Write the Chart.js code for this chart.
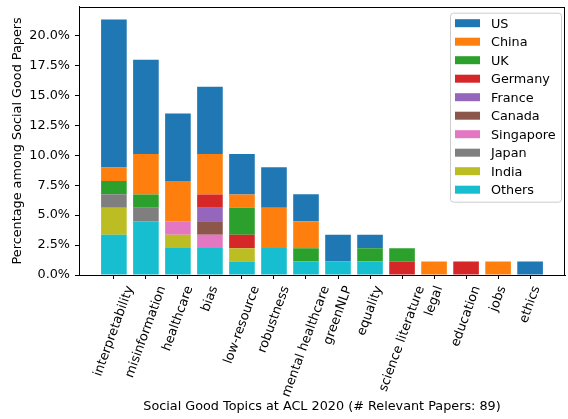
<!DOCTYPE html>
<html lang="en">
<head>
  <meta charset="UTF-8">
  <title>Social Good Topics at ACL 2020</title>
  <script src="https://cdn.jsdelivr.net/npm/chart.js"></script>
  <style>
    html, body { margin: 0; padding: 0; background: #fff; }
    #wrap { width: 568px; height: 419px; }
  </style>
</head>
<body>
  <div id="wrap"><canvas id="topicChart" width="568" height="419"></canvas></div>

  <script>
    // Topics on the x axis
    const topics = ['interpretability', 'misinformation', 'healthcare', 'bias', 'low-resource', 'robustness',
      'mental healthcare', 'greenNLP', 'equality', 'science literature', 'legal', 'education', 'jobs', 'ethics'];

    // Share of the 89 social good papers (%), per country, per topic
    const us        = [12.36, 7.87, 5.62, 5.62, 3.37, 3.37, 2.25, 2.25, 1.12, 0, 0, 0, 0, 1.12];
    const china     = [1.12, 3.37, 3.37, 3.37, 1.12, 3.37, 2.25, 0, 0, 0, 1.12, 0, 1.12, 0];
    const uk        = [1.12, 1.12, 0, 0, 2.25, 0, 1.12, 0, 1.12, 1.12, 0, 0, 0, 0];
    const germany   = [0, 0, 0, 1.12, 1.12, 0, 0, 0, 0, 1.12, 0, 1.12, 0, 0];
    const france    = [0, 0, 0, 1.12, 0, 0, 0, 0, 0, 0, 0, 0, 0, 0];
    const canada    = [0, 0, 0, 1.12, 0, 0, 0, 0, 0, 0, 0, 0, 0, 0];
    const singapore = [0, 0, 1.12, 1.12, 0, 0, 0, 0, 0, 0, 0, 0, 0, 0];
    const japan     = [1.12, 1.12, 0, 0, 0, 0, 0, 0, 0, 0, 0, 0, 0, 0];
    const india     = [2.25, 0, 1.12, 0, 1.12, 0, 0, 0, 0, 0, 0, 0, 0, 0];
    const others    = [3.37, 4.49, 2.25, 2.25, 1.12, 2.25, 1.12, 1.12, 1.12, 0, 0, 0, 0, 0];

    const yTicks = [0, 2.5, 5, 7.5, 10, 12.5, 15, 17.5, 20];

    // stacking order, bottom first
    const series = [
      ['Others', others], ['India', india], ['Japan', japan], ['Singapore', singapore], ['Canada', canada],
      ['France', france], ['Germany', germany], ['UK', uk], ['China', china], ['US', us]
    ];
    const colors = {
      US: '#1f77b4', China: '#ff7f0e', UK: '#2ca02c', Germany: '#d62728', France: '#9467bd',
      Canada: '#8c564b', Singapore: '#e377c2', Japan: '#7f7f7f', India: '#bcbd22', Others: '#17becf'
    };

    const FONT = 12.8;
    Chart.defaults.font.family = '"DejaVu Sans", sans-serif';
    Chart.defaults.font.size = FONT;
    Chart.defaults.color = '#000';

    // spines on top/right, rotated topic labels, legend inside the axes
    const extras = {
      id: 'extras',
      afterDraw(chart) {
        const { ctx, chartArea: a, scales: { x } } = chart;
        ctx.save();
        ctx.strokeStyle = '#000';
        ctx.lineWidth = 1;
        ctx.strokeRect(Math.round(a.left) + 0.5, Math.round(a.top) + 0.5,
          Math.round(a.right - a.left) - 1, Math.round(a.bottom - a.top));

        ctx.font = FONT + 'px "DejaVu Sans"';
        ctx.fillStyle = '#000';
        ctx.textAlign = 'center';
        ctx.textBaseline = 'middle';
        const rot = 70 * Math.PI / 180;
        topics.forEach((t, i) => {
          const w = ctx.measureText(t).width;
          const bh = w * Math.sin(rot) + 15 * Math.cos(rot);
          ctx.save();
          ctx.translate(x.getPixelForValue(i), a.bottom + 9 + bh / 2);
          ctx.rotate(-rot);
          ctx.fillText(t, 0, 0);
          ctx.restore();
        });

        // legend
        const right = a.right - 4, top = a.top + 6, w = 111, rowH = 18.5;
        const items = chart.data.datasets.slice().reverse();
        const h = items.length * rowH + 4;
        const left = right - w;
        ctx.beginPath();
        ctx.roundRect(left + 0.5, top + 0.5, w, h, 3);
        ctx.fillStyle = 'rgba(255,255,255,0.8)';
        ctx.fill();
        ctx.strokeStyle = '#cccccc';
        ctx.stroke();
        ctx.textAlign = 'left';
        items.forEach((ds, i) => {
          const cy = top + 10.5 + i * rowH;
          ctx.fillStyle = ds.backgroundColor;
          ctx.fillRect(left + 5, cy - 4, 25, 8);
          ctx.fillStyle = '#000';
          ctx.fillText(ds.label, left + 41, cy + 1);
        });
        ctx.restore();
      }
    };

    new Chart(document.getElementById('topicChart'), {
      type: 'bar',
      data: {
        datasets: series.map(([name, vals]) => ({
          label: name,
          data: vals.map((v, i) => ({ x: i, y: v })),
          backgroundColor: colors[name],
          borderWidth: 0,
          barPercentage: 0.8,
          categoryPercentage: 1.0
        }))
      },
      options: {
        responsive: false,
        animation: false,
        layout: { padding: { top: 6.7, right: 3, left: 0, bottom: 0 } },
        plugins: { legend: { display: false } },
        scales: {
          x: {
            type: 'linear',
            stacked: true,
            offset: false,
            min: -1.09,
            max: 14.09,
            afterBuildTicks: axis => { axis.ticks = topics.map((t, i) => ({ value: i })); },
            afterFit: s => { s.height = 144; },
            ticks: { display: false },
            grid: { offset: false, drawOnChartArea: false, tickLength: 4, color: '#000' },
            border: { color: '#000', width: 1 },
            title: { display: true, text: 'Social Good Topics at ACL 2020 (# Relevant Papers: 89)', padding: { top: 0, bottom: 5 } }
          },
          y: {
            stacked: true,
            min: 0,
            max: 22.41,
            afterBuildTicks: axis => { axis.ticks = yTicks.map(v => ({ value: v })); },
            afterFit: s => { s.width = 79; s.paddingTop = 0; s.paddingBottom = 0; },
            ticks: { padding: 5, callback: v => v.toFixed(1) + '%' },
            grid: { drawOnChartArea: false, tickLength: 4, color: '#000' },
            border: { color: '#000', width: 1 },
            title: { display: true, text: 'Percentage among Social Good Papers', padding: { top: 10, bottom: 0 } }
          }
        }
      },
      plugins: [extras]
    });
  </script>
</body>
</html>
